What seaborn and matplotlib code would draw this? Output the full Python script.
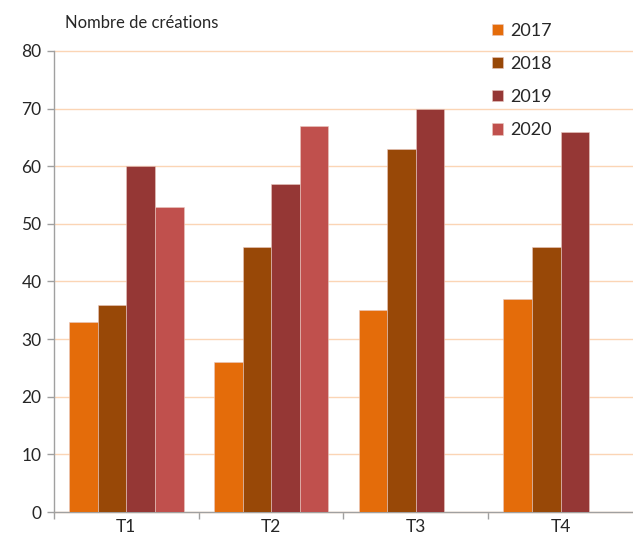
import pandas as pd
import seaborn as sns
import matplotlib.pyplot as plt
import numpy as np

# Data
quarters = ['T1', 'T2', 'T3', 'T4']
years = ['2017', '2018', '2019', '2020']
v2017 = [33, 26, 35, 37]
v2018 = [36, 46, 63, 46]
v2019 = [60, 57, 70, 66]
v2020 = [53, 67, np.nan, np.nan]
colors = ['#E46C0A', '#984807', '#953735', '#C0504D']


def main():
    df = pd.DataFrame({
        'quarter': quarters * 4,
        'year': [y for y in years for _ in quarters],
        'value': v2017 + v2018 + v2019 + v2020,
    })

    sns.set_style('white')
    plt.rcParams['font.family'] = ['Lato', 'DejaVu Sans']

    fig = plt.figure(figsize=(6.33, 5.38), dpi=100)
    ax = fig.add_axes([0.0853, 0.0483, 0.9147, 0.857])

    sns.barplot(data=df, x='quarter', y='value', hue='year', hue_order=years,
                palette=colors, width=0.79, saturation=1, ax=ax,
                edgecolor='#E8C8C0', linewidth=0.4, zorder=3)

    ax.set_xlim(-0.5, 3.5)
    ax.set_ylim(0, 80)
    ax.set_yticks(range(0, 81, 10))
    ax.yaxis.grid(True, color='#FBD5B5', linewidth=1, zorder=0, clip_on=False)
    ax.xaxis.grid(False)
    ax.set_axisbelow(True)

    # category boundary ticks
    ax.set_xticks([-0.5, 0.5, 1.5, 2.5], minor=True)
    ax.tick_params(axis='x', which='minor', length=5, color='#A0A0A0', width=1, bottom=True)
    ax.tick_params(axis='x', which='major', length=0, labelsize=12.5, pad=5)
    ax.tick_params(axis='y', length=5, color='#A0A0A0', width=1, left=True, labelsize=12.5, pad=4)

    for s in ['top', 'right']:
        ax.spines[s].set_visible(False)
    for s in ['left', 'bottom']:
        ax.spines[s].set_color('#A0A0A0')
        ax.spines[s].set_linewidth(1)

    ax.set_xlabel('')
    ax.set_ylabel('')
    fig.text(0.102, 0.957, 'Nombre de créations', fontsize=12, ha='left', va='center')

    handles, labels = ax.get_legend_handles_labels()
    ax.get_legend().remove()
    fig.legend(handles, labels, loc='upper left', bbox_to_anchor=(0.752, 0.988),
               frameon=False, fontsize=13, handlelength=0.6, handleheight=0.6,
               handletextpad=0.4, labelspacing=0.95)

    plt.savefig('out.png', dpi=100)


if __name__ == '__main__':
    main()
